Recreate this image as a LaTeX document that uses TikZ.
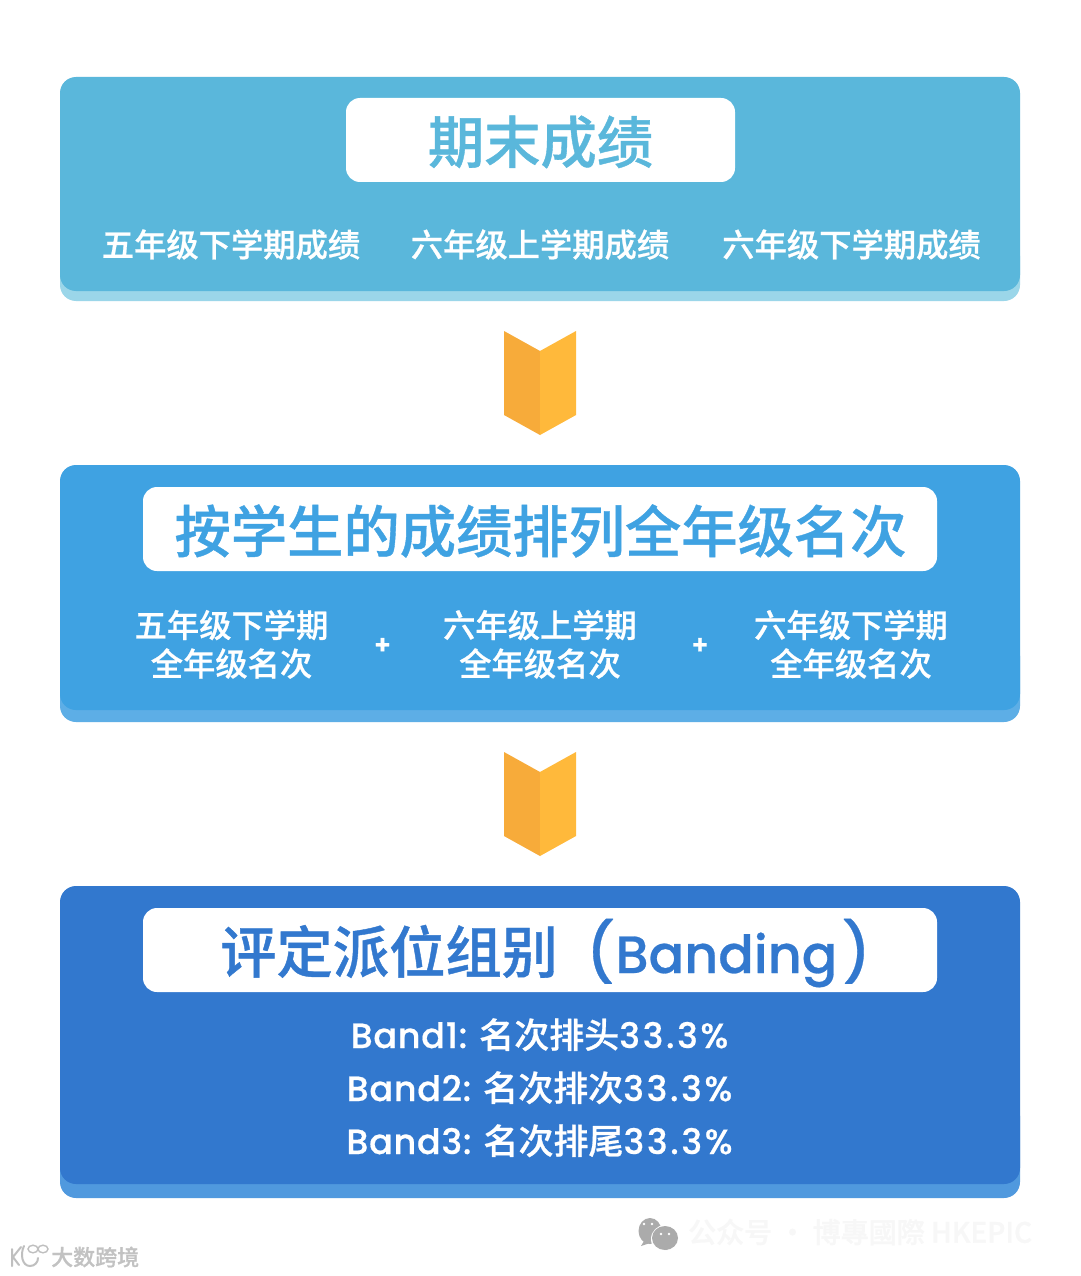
\documentclass[tikz,border=0pt]{standalone}
\usepackage{fontspec}
\setmainfont{Noto Sans CJK SC}[UprightFont=* Medium,BoldFont=* Bold,FakeBold=0.7]
\newfontfamily\latf{Poppins}[UprightFont=* Medium,BoldFont=* SemiBold,FakeBold=0.5]
\definecolor{cardA}{HTML}{5AB7DB}\definecolor{edgeA}{HTML}{9BD6E9}
\definecolor{cardB}{HTML}{3FA2E2}\definecolor{edgeB}{HTML}{5DAEE6}
\definecolor{cardC}{HTML}{3278CE}\definecolor{edgeC}{HTML}{5099DE}
\definecolor{arrL}{HTML}{F7AB3A}\definecolor{arrR}{HTML}{FFB93B}
\tikzset{
  x=1pt,y=-1pt,
  titlebox/.style={fill=white,rounded corners=14pt},
  titletext/.style={font=\fontsize{56.3}{60}\selectfont,anchor=center,inner sep=0pt},
  subtext/.style={font=\fontsize{32.3}{38.5}\selectfont,text=white,align=center,anchor=center,inner sep=0pt},
  bandtext/.style={font=\fontsize{35}{40}\selectfont,text=white,anchor=base,inner sep=0pt},
  plustext/.style={font=\latf\fontsize{26}{30}\selectfont\bfseries,text=white,anchor=center,inner sep=0pt},
}
\newcommand{\chevron}[1]{%
  \fill[arrL] (504,#1+331) -- (540,#1+351) -- (540,#1+435) -- (504,#1+415) -- cycle;
  \fill[arrR] (576,#1+331) -- (540,#1+351) -- (540,#1+435) -- (576,#1+415) -- cycle;
}
\newcommand{\LB}[1]{{\latf\addfontfeature{LetterSpace=2}#1}}
\newcommand{\LS}[1]{{\latf\addfontfeature{LetterSpace=7.5}#1}}
\begin{document}
\begin{tikzpicture}
\useasboundingbox (0,0) rectangle (1080,1276);
\fill[white] (0,0) rectangle (1080,1276);
% card 1
\fill[edgeA,rounded corners=16pt] (60,240) rectangle (1020,301);
\fill[cardA,rounded corners=16pt] (60,77) rectangle (1020,291);
\fill[titlebox] (346,98) rectangle (735,182);
\node[titletext,text=cardA] (t1) at (540.5,142) {期末成绩};
\node[subtext] (a1) at (231,244.5) {五年级下学期成绩};
\node[subtext] (a2) at (540,244.5) {六年级上学期成绩};
\node[subtext] (a3) at (851.5,244.5) {六年级下学期成绩};
\chevron{0}
% card 2
\fill[edgeB,rounded corners=16pt] (60,640) rectangle (1020,722);
\fill[cardB,rounded corners=16pt] (60,465) rectangle (1020,710);
\fill[titlebox] (143,487) rectangle (937,571);
\node[titletext,text=cardB] (t2) at (540.5,531) {按学生的成绩排列全年级名次};
\node[subtext] (b1) at (231.5,644.3) {五年级下学期\\全年级名次};
\node[plustext] (p1) at (382.5,646) {+};
\node[subtext] (b2) at (540,644.3) {六年级上学期\\全年级名次};
\node[plustext] (p2) at (700,646) {+};
\node[subtext] (b3) at (851,644.3) {六年级下学期\\全年级名次};
\chevron{421}
% card 3
\fill[edgeC,rounded corners=16pt] (60,1100) rectangle (1020,1198);
\fill[cardC,rounded corners=16pt] (60,886) rectangle (1020,1184);
\fill[titlebox] (143,908) rectangle (937,992);
\node[font=\fontsize{56.3}{60}\selectfont,text=cardC,anchor=base west,inner sep=0pt] (t3) at (220,973)
  {评定派位组别\hspace{28pt}{\latf\fontsize{58}{62}\selectfont(}\hspace{1pt}{\latf\fontsize{52.5}{60}\selectfont Banding}\hspace{5pt}{\latf\fontsize{58}{62}\selectfont)}};
\node[bandtext] (c1) at (539.5,1048) {\LB{Band1:}\hspace{12pt}名次排头\LS{33.3\%}};
\node[bandtext] (c2) at (539.5,1101) {\LB{Band2:}\hspace{12pt}名次排次\LS{33.3\%}};
\node[bandtext] (c3) at (539.5,1154) {\LB{Band3:}\hspace{12pt}名次排尾\LS{33.3\%}};
% watermarks
\fill[black!33] (650,1231) ellipse [x radius=11.5pt,y radius=13pt];
\fill[black!33] (644,1241) -- (641,1246) -- (650,1243) -- cycle;
\fill[white] (665,1239) circle (14pt);
\fill[black!33] (665,1238) ellipse [x radius=13pt,y radius=12pt];
\fill[black!33] (662,1248) -- (667,1250) -- (669,1246) -- cycle;
\foreach \ex/\ey in {644/1224,652/1224,661/1234,669/1234}{\fill[white] (\ex,\ey) circle (1.4pt);}
\node[font=\fontsize{28}{30}\selectfont,text=black!3,anchor=west,inner sep=0pt] (w1) at (688,1232) {公众号 · 博專國際 HKEPIC};
\node[font=\fontsize{22}{26}\selectfont,text=black!24,anchor=west,inner sep=0pt] (w2) at (51,1257) {大数跨境};
\draw[black!25,line width=2pt,line cap=round] (12,1249) -- (12,1266) (21,1247) -- (13,1257) -- (19,1265)
      (24,1246) .. controls (20,1254) and (22,1266) .. (30,1266) .. controls (35,1266) and (38,1262) .. (38,1258);
\draw[black!25,line width=1.4pt] (33,1249) ellipse [x radius=5pt,y radius=3.8pt] (43,1249) ellipse [x radius=5pt,y radius=3.8pt];
\end{tikzpicture}
\end{document}
